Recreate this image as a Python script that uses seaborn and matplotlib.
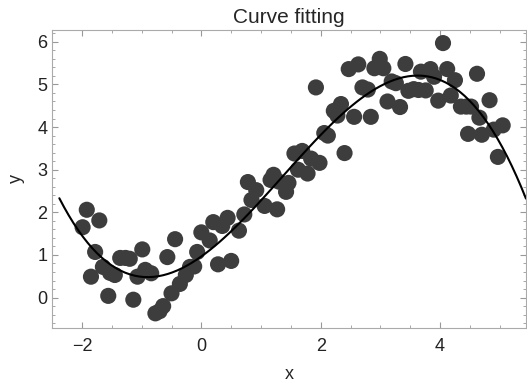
import numpy as np
import pandas as pd
import matplotlib
matplotlib.use('Agg')
import matplotlib.pyplot as plt
from matplotlib.ticker import MultipleLocator
import seaborn as sns

x_vals = [-1.99, -1.92, -1.85, -1.78, -1.71, -1.65, -1.56, -1.53, -1.45, -1.36,
          -1.27, -1.20, -1.14, -1.07, -0.99, -0.94, -0.84, -0.77, -0.70, -0.64,
          -0.57, -0.44, -0.50, -0.36, -0.26, -0.19, -0.12, -0.07, 0.00, 0.14,
          0.20, 0.28, 0.35, 0.44, 0.50, 0.63, 0.72, 0.78, 0.84, 0.92,
          1.06, 1.16, 1.21, 1.27, 1.30, 1.42, 1.46, 1.56, 1.62, 1.69,
          1.78, 1.84, 1.92, 1.98, 2.06, 2.12, 2.22, 2.28, 2.34, 2.40,
          2.47, 2.56, 2.63, 2.70, 2.79, 2.84, 2.90, 2.99, 3.05, 3.12,
          3.19, 3.26, 3.33, 3.42, 3.47, 3.56, 3.64, 3.68, 3.76, 3.84,
          3.90, 3.97, 4.05, 4.12, 4.18, 4.25, 4.35, 4.44, 4.52, 4.47,
          4.62, 4.66, 4.70, 4.83, 4.90, 4.97, 5.05]
y_vals = [1.65, 2.06, 0.49, 1.07, 1.81, 0.72, 0.04, 0.58, 0.53, 0.93,
          0.93, 0.91, -0.05, 0.49, 1.13, 0.65, 0.57, -0.37, -0.32, -0.20,
          0.95, 1.37, 0.10, 0.32, 0.53, 0.72, 0.73, 1.07, 1.53, 1.34,
          1.77, 0.78, 1.68, 1.87, 0.86, 1.57, 1.95, 2.71, 2.29, 2.52,
          2.15, 2.76, 2.88, 2.07, 2.72, 2.48, 2.69, 3.38, 3.00, 3.44,
          2.91, 3.26, 4.93, 3.16, 3.86, 3.80, 4.38, 4.27, 4.54, 3.39,
          5.36, 4.24, 5.47, 4.93, 4.88, 4.24, 5.38, 5.60, 5.38, 4.60,
          5.07, 5.03, 4.47, 5.48, 4.85, 4.89, 4.87, 5.30, 4.86, 5.36,
          5.18, 4.62, 5.97, 5.36, 4.74, 5.10, 4.48, 4.48, 4.48, 3.84,
          5.25, 4.22, 3.82, 4.63, 3.94, 3.30, 4.04]

df = pd.DataFrame({'x': x_vals, 'y': y_vals})

sns.set_style('ticks')
plt.rcParams['font.family'] = ['Liberation Sans', 'DejaVu Sans']

fig = plt.figure(figsize=(5.27, 3.83), dpi=100)
ax = fig.add_axes([0.099, 0.144, 0.899, 0.778])

# fitted curve starts a bit right of the frame edge
ax.set_xlim(-2.38, 5.44)
sns.regplot(data=df, x='x', y='y', order=3, ci=None, truncate=False, ax=ax,
            scatter_kws={'s': 135, 'color': '#3d3d3d', 'edgecolors': 'none', 'alpha': 1},
            line_kws={'color': 'black', 'lw': 1.5})
ax.set_xlim(-2.5, 5.44)
ax.set_ylim(-0.71, 6.28)

ax.set_title('Curve fitting', fontsize=15, pad=5)
ax.set_xlabel('x', fontsize=13, labelpad=8)
ax.set_ylabel('y', fontsize=13, labelpad=9)

ax.xaxis.set_major_locator(MultipleLocator(2))
ax.xaxis.set_minor_locator(MultipleLocator(0.5))
ax.yaxis.set_major_locator(MultipleLocator(1))
ax.yaxis.set_minor_locator(MultipleLocator(0.2))
ax.tick_params(which='both', direction='in', top=True, right=True, color='#999999',
               labelsize=13, labelcolor='#222222')
ax.tick_params(axis='x', which='major', pad=7)
ax.tick_params(which='major', length=4)
ax.tick_params(which='minor', length=2)
for s in ax.spines.values():
    s.set_color('#aaaaaa')

fig.savefig('out.png', dpi=100)
